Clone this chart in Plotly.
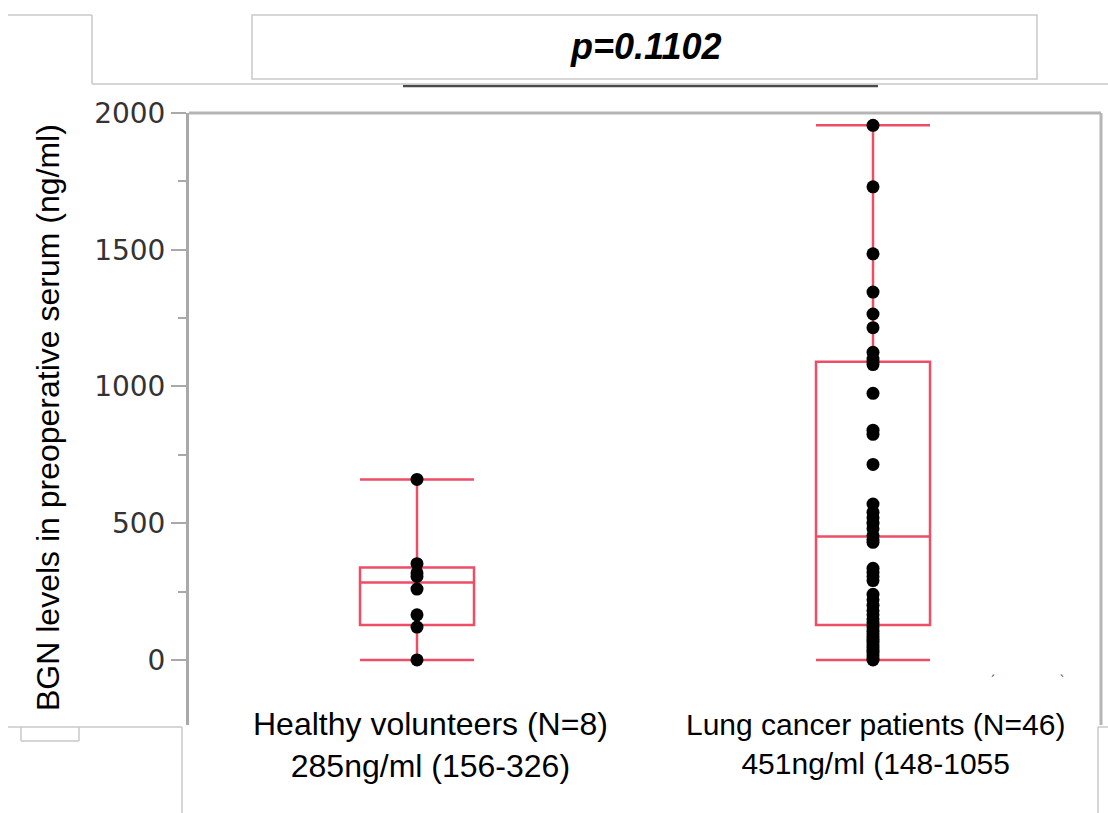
import plotly.graph_objects as go

# ---------------- data ----------------
categories = ["Healthy volunteers", "Lung cancer patients"]
healthy_values = [660, 352, 318, 305, 259, 165, 120, 0]
lung_values = [1955, 1730, 1485, 1345, 1265, 1215, 1125, 1100, 1090, 1080,
               975, 840, 825, 715,
               570, 540, 520, 500, 480, 455, 440, 430,
               335, 320, 305, 290,
               240, 220, 200, 180, 165, 150, 135, 120, 105,
               95, 85, 75, 65, 55, 45, 35, 25, 15, 5, 0]
box_q1 = [128, 128]
box_median = [283, 451]
box_q3 = [338, 1090]
box_lower = [0, 0]
box_upper = [660, 1955]
label_line1 = ["Healthy volunteers (N=8)", "Lung cancer patients (N=46)"]
label_line2 = ["285ng/ml (156-326)", "451ng/ml (148-1055"]
y_tickvals = [0, 500, 1000, 1500, 2000]
p_text = "p=0.1102"
y_title = "BGN levels in preoperative serum (ng/ml)"

# ---------------- layout geometry ----------------
W, H = 1108, 813
L, R, T, B = 189, 1101, 113, 725
PW, PH = R - L, B - T


def px(x):
    return (x - L) / PW


def py(y):
    return (B - y) / PH


RED = "#EE4D66"
GRAY = "#a9a9a9"
FRAME = "#c9c9c9"

fig = go.Figure()

fig.add_trace(go.Scatter(
    x=[categories[0]] * len(healthy_values), y=healthy_values,
    mode="markers", marker=dict(color="black", size=13),
    showlegend=False, hoverinfo="y"))
fig.add_trace(go.Scatter(
    x=[categories[1]] * len(lung_values), y=lung_values,
    mode="markers", marker=dict(color="black", size=13),
    showlegend=False, hoverinfo="y"))

fig.add_trace(go.Box(
    x=categories, q1=box_q1, median=box_median, q3=box_q3,
    lowerfence=box_lower, upperfence=box_upper,
    line=dict(color=RED, width=2.5), fillcolor="rgba(0,0,0,0)",
    whiskerwidth=1, width=0.25, boxpoints=False, showlegend=False))

fig.update_layout(
    width=W, height=H,
    margin=dict(l=L, r=W - R, t=T, b=H - B),
    paper_bgcolor="white", plot_bgcolor="white",
    showlegend=False,
    xaxis=dict(type="category", categoryorder="array", categoryarray=categories,
               range=[-0.5, 1.5], showticklabels=False, ticks="",
               showline=False, showgrid=False, zeroline=False),
    yaxis=dict(range=[-238, 2000], tickvals=y_tickvals, ticks="outside",
               ticklen=15, tickwidth=2, tickcolor=GRAY,
               showline=True, linecolor=GRAY, linewidth=3,
               showgrid=False, zeroline=False,
               tickfont=dict(family="DejaVu Sans", size=28, color="#333333"),
               minor=dict(tickvals=[250, 750, 1250, 1750], ticks="outside",
                          ticklen=8, tickwidth=2, tickcolor=GRAY)),
)

shapes = []


def seg(x0, y0, x1, y1, color=FRAME, width=1.5):
    shapes.append(dict(type="line", xref="paper", yref="paper",
                       x0=px(x0), y0=py(y0), x1=px(x1), y1=py(y1),
                       line=dict(color=color, width=width)))


# plot frame (top & right)
seg(L, T, R, T, color="#b5b5b5", width=3)
seg(R, T, R, B, color="#b5b5b5", width=3)
# significance bar
seg(403, 86, 878, 86, color="#4a4a4a", width=2.5)
# outer frame pieces
seg(8, 15, 92, 15)
seg(92, 15, 92, 84)
seg(92, 84, 1108, 84)
seg(8, 727, 182, 727)
seg(21, 727, 21, 741)
seg(21, 741, 79, 741)
seg(79, 741, 79, 727)
seg(182, 727, 182, 813)
seg(1098, 727, 1108, 727)
seg(1098, 727, 1098, 813)
shapes.append(dict(type="rect", xref="paper", yref="paper",
                   x0=px(252), y0=py(15), x1=px(1037), y1=py(79),
                   line=dict(color=FRAME, width=1.5), fillcolor="white"))
fig.update_layout(shapes=shapes)

annotations = [
    dict(text="<b><i>" + p_text + "</i></b>", xref="paper", yref="paper",
         x=px(645), y=py(47), xanchor="center", yanchor="middle",
         showarrow=False, font=dict(family="Liberation Sans", size=36, color="black")),
    dict(text=y_title, xref="paper", yref="paper", x=px(48), y=py(418),
         xanchor="center", yanchor="middle", textangle=-90, showarrow=False,
         font=dict(family="Liberation Sans", size=32, color="black")),
    dict(text="´", xref="paper", yref="paper", x=px(997), y=py(692),
         showarrow=False, font=dict(size=14, color="#555")),
    dict(text="`", xref="paper", yref="paper", x=px(1066), y=py(692),
         showarrow=False, font=dict(size=14, color="#555")),
]
shifts = [13, 2]
sizes = [32, 30]
tops = [704, 706]
for i, cat in enumerate(categories):
    annotations.append(dict(
        text=label_line1[i] + "<br>" + label_line2[i],
        xref="x", yref="paper", x=cat, y=py(tops[i]), xshift=shifts[i],
        xanchor="center", yanchor="top", showarrow=False, align="center",
        font=dict(family="Liberation Sans", size=sizes[i], color="black")))
fig.update_layout(annotations=annotations)

fig.write_html("out.html")
